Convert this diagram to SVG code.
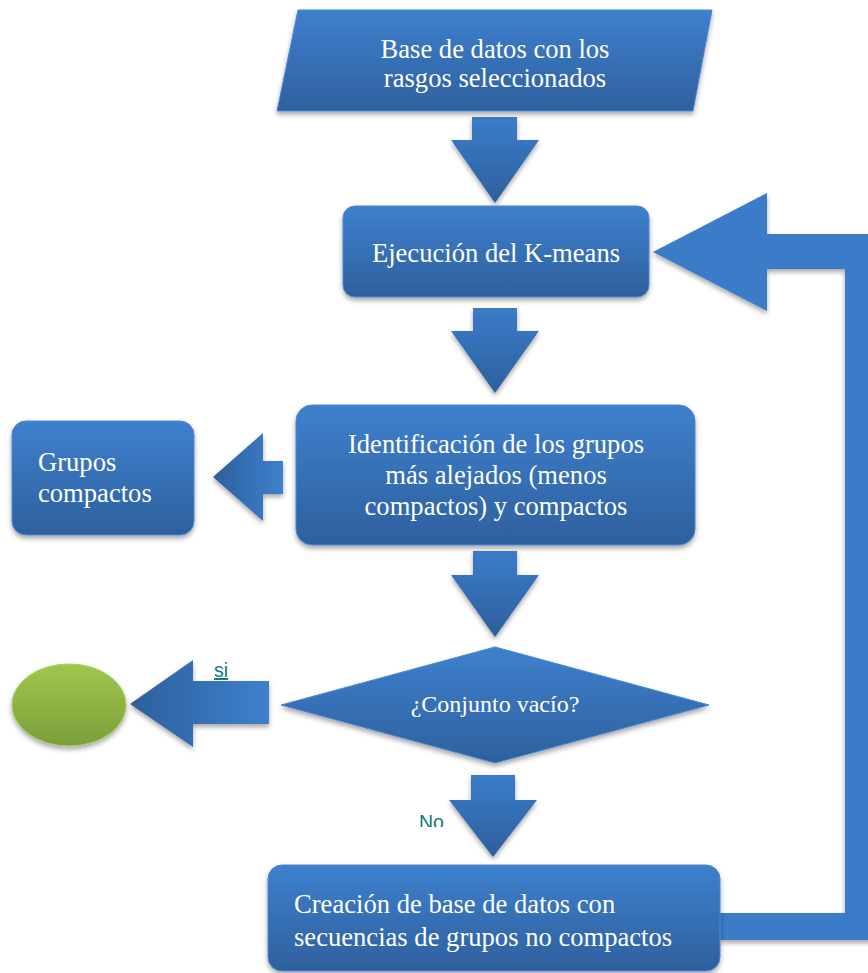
<svg xmlns="http://www.w3.org/2000/svg" width="868" height="973" viewBox="0 0 868 973">
<defs>
<linearGradient id="gBox" x1="0" y1="0" x2="0" y2="1">
<stop offset="0" stop-color="#3e80cd"/><stop offset="1" stop-color="#2e609e"/>
</linearGradient>
<linearGradient id="gArrow" x1="0" y1="0" x2="0" y2="1">
<stop offset="0" stop-color="#3b7cc9"/><stop offset="1" stop-color="#2d5f9c"/>
</linearGradient>
<linearGradient id="gArrowH" x1="0" y1="0" x2="1" y2="0">
<stop offset="0" stop-color="#2d5f9c"/><stop offset="1" stop-color="#3e80cd"/>
</linearGradient>
<linearGradient id="gGreen" x1="0" y1="0" x2="0" y2="1">
<stop offset="0" stop-color="#9fc74c"/><stop offset="1" stop-color="#7b9e3b"/>
</linearGradient>
<filter id="sh" x="-10%" y="-10%" width="120%" height="130%">
<feDropShadow dx="0" dy="3" stdDeviation="2.5" flood-color="#000" flood-opacity="0.35"/>
</filter>
<clipPath id="clipNo"><rect x="400" y="800" width="60" height="27"/></clipPath>
</defs>
<style>
.box{fill:url(#gBox);stroke:#4a88d2;stroke-width:1;filter:url(#sh)}
.arr{fill:url(#gArrow);filter:url(#sh)}
.arrh{fill:url(#gArrowH);filter:url(#sh)}
.t{font-family:"Liberation Sans",Arial,sans-serif;font-family:"Liberation Serif","Times New Roman",serif;font-size:26.6px;fill:#ffffff}
.tc{text-anchor:middle}
.lbl{font-family:"Liberation Sans",Arial,sans-serif;font-size:19.5px;fill:#0b7b75}
</style>

<g id="connectors">
<path id="a1" class="arr" d="M472,117 H517 V140 H539 L495,203 L451,140 H472 Z"/>
<path id="a2" class="arr" d="M473,308 H517 V331 H539 L495,393 L451,331 H473 Z"/>
<path id="a3" class="arr" d="M473,551 H517 V575 H539 L495,637 L451,575 H473 Z"/>
<path id="a4" class="arr" d="M471,775 H515 V800 H537 L493,857 L449,800 H471 Z"/>
<path id="a5" class="arrh" d="M283,461 H263 V433 L213,477 L263,521 V494 H283 Z"/>
<path id="a6" class="arrh" d="M269,681 H193 V660 L130,704 L193,747 V724 H269 Z"/>
<path id="a7" fill="#3a7bc8" filter="url(#sh)" d="M653,252 L767,193 V234 H880 V940 H720 V913 H845 V269 H767 V311 Z"/>
<text class="lbl" x="214" y="677" text-decoration="underline">si</text>
<text class="lbl" x="419" y="829" clip-path="url(#clipNo)">No</text>
</g>

<g id="n_base">
<polygon class="box" points="298,10 712,10 693,111 277,111"/>
<text class="t tc" x="495" y="58">Base de datos con los</text>
<text class="t tc" x="495" y="87">rasgos seleccionados</text>
</g>

<g id="n_kmeans">
<rect class="box" x="343" y="206" width="306" height="91" rx="12"/>
<text class="t tc" x="496" y="262">Ejecución del K-means</text>
</g>

<g id="n_ident">
<rect class="box" x="296" y="405" width="399" height="140" rx="16"/>
<text class="t tc" x="496" y="453">Identificación de los grupos</text>
<text class="t tc" x="496" y="484">más alejados (menos</text>
<text class="t tc" x="496" y="515">compactos) y compactos</text>
</g>

<g id="n_grupos">
<rect class="box" x="12" y="421" width="182" height="114" rx="14"/>
<text class="t" x="38" y="471">Grupos</text>
<text class="t" x="38" y="502">compactos</text>
</g>

<g id="n_decision">
<polygon class="box" points="281,705 495,647 709,705 495,763"/>
<text class="t tc" x="495" y="712" style="font-size:24px">¿Conjunto vacío?</text>
</g>

<g id="n_end">
<ellipse cx="69" cy="705" rx="57" ry="41" fill="url(#gGreen)" stroke="#a9cc5e" stroke-width="1" filter="url(#sh)"/>
</g>

<g id="n_creacion">
<rect class="box" x="268" y="865" width="452" height="106" rx="14"/>
<text class="t" x="294" y="913">Creación de base de datos con</text>
<text class="t" x="294" y="946">secuencias de grupos no compactos</text>
</g>
</svg>
